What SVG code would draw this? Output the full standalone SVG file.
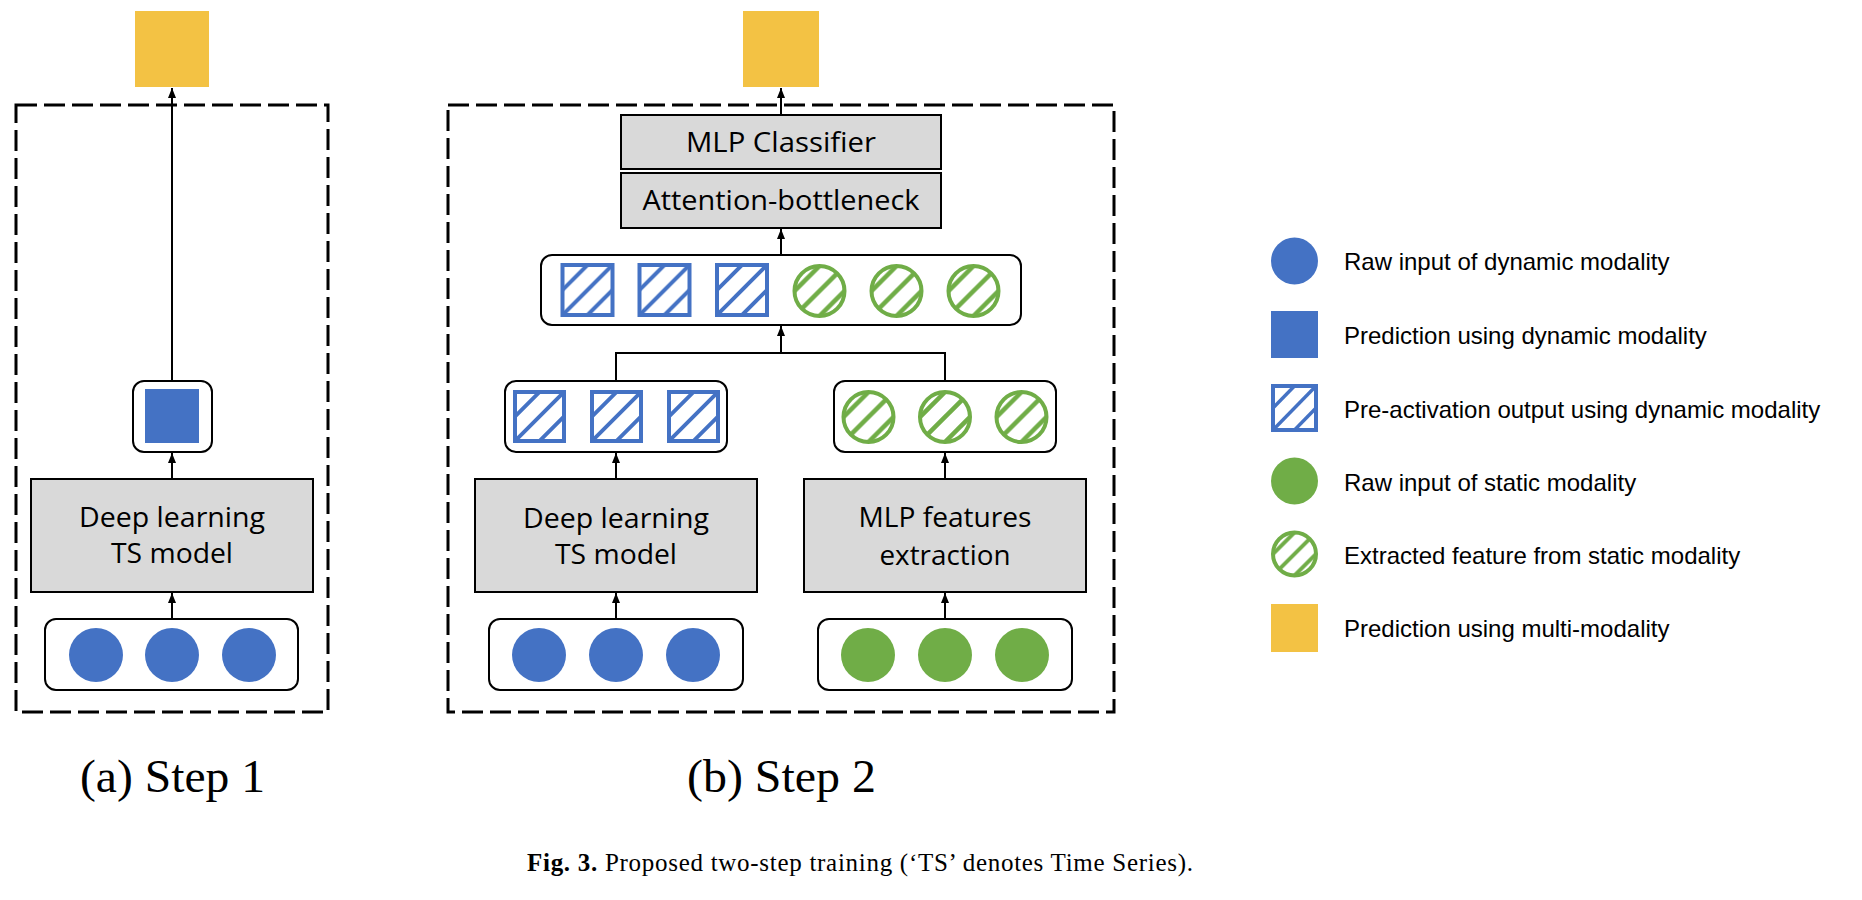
<svg xmlns="http://www.w3.org/2000/svg" width="1862" height="900" viewBox="0 0 1862 900">
<defs>
<style>
.dash{fill:none;stroke:#000;stroke-width:3;stroke-dasharray:21 7}
.gbox{fill:#D9D9D9;stroke:#000;stroke-width:2}
.rbox{fill:#fff;stroke:#000;stroke-width:2}
.lbl{font-family:"Open Sans","Noto Sans",sans-serif;font-size:28px;fill:#000;text-anchor:middle}
.leg{font-family:"Liberation Sans",Arial,sans-serif;font-size:24px;fill:#000}
.cap{font-family:"Liberation Serif","Times New Roman",serif;font-size:46px;fill:#000}
.fig{font-family:"Liberation Serif","Times New Roman",serif;font-size:25px;fill:#000}
.conn{fill:none;stroke:#000;stroke-width:2}
.bc{fill:#4472C4}
.gc{fill:#70AD47}
.yl{fill:#F3C244}
.hs{fill:url(#hatchB);stroke:#4472C4;stroke-width:4}
.hc{fill:url(#hatchG);stroke:#70AD47;stroke-width:4}
</style>
<marker id="arr" markerUnits="userSpaceOnUse" markerWidth="10" markerHeight="10" refX="10" refY="4" orient="auto">
<path d="M0,0 L10,4 L0,8 z" fill="#000"/>
</marker>
<pattern id="hatchB" patternContentUnits="objectBoundingBox" width="1" height="1">
<g stroke="#4472C4" stroke-width="0.08">
<line x1="-0.1" y1="0.6" x2="0.6" y2="-0.1"/>
<line x1="-0.1" y1="1.1" x2="1.1" y2="-0.1"/>
<line x1="0.4" y1="1.1" x2="1.1" y2="0.4"/>
</g>
</pattern>
<pattern id="hatchG" patternContentUnits="objectBoundingBox" width="1" height="1">
<g stroke="#70AD47" stroke-width="0.09">
<line x1="-0.1" y1="0.6" x2="0.6" y2="-0.1"/>
<line x1="-0.1" y1="1.1" x2="1.1" y2="-0.1"/>
<line x1="0.4" y1="1.1" x2="1.1" y2="0.4"/>
</g>
</pattern>
</defs>
<rect width="1862" height="900" fill="#fff"/>

<!-- Step 1 -->
<g id="step1-frame"><rect class="dash" x="16" y="105" width="312" height="607"/></g>
<g id="s1-output"><rect class="yl" x="135" y="11" width="74" height="76"/></g>
<g id="s1-pred"><rect class="rbox" x="133" y="381" width="79" height="71" rx="11"/><rect class="bc" x="145" y="389" width="54" height="54"/></g>
<g id="s1-model"><rect class="gbox" x="31" y="479" width="282" height="113"/>
<text class="lbl" x="172" y="527" textLength="186" lengthAdjust="spacingAndGlyphs">Deep learning</text>
<text class="lbl" x="172" y="563" textLength="122" lengthAdjust="spacingAndGlyphs">TS model</text></g>
<g id="s1-input"><rect class="rbox" x="45" y="619" width="253" height="71" rx="11"/>
<circle class="bc" cx="96" cy="655" r="27"/><circle class="bc" cx="172" cy="655" r="27"/><circle class="bc" cx="249" cy="655" r="27"/></g>

<!-- Step 2 -->
<g id="step2-frame"><rect class="dash" x="448" y="105" width="666" height="607"/></g>
<g id="s2-output"><rect class="yl" x="743" y="11" width="76" height="76"/></g>
<g id="s2-classifier"><rect class="gbox" x="621" y="115" width="320" height="54"/>
<text class="lbl" x="781" y="152" textLength="190" lengthAdjust="spacingAndGlyphs">MLP Classifier</text></g>
<g id="s2-attention"><rect class="gbox" x="621" y="173" width="320" height="55"/>
<text class="lbl" x="781" y="210" textLength="277" lengthAdjust="spacingAndGlyphs">Attention-bottleneck</text></g>
<g id="s2-fused"><rect class="rbox" x="541" y="255" width="480" height="70" rx="11"/>
<rect class="hs" x="562.5" y="265" width="50" height="50"/>
<rect class="hs" x="639.5" y="265" width="50" height="50"/>
<rect class="hs" x="717" y="265" width="50" height="50"/>
<circle class="hc" cx="819.5" cy="291" r="25"/>
<circle class="hc" cx="896.5" cy="291" r="25"/>
<circle class="hc" cx="973.5" cy="291" r="25"/></g>
<g id="s2-dyn-feat"><rect class="rbox" x="505" y="381" width="222" height="71" rx="11"/>
<rect class="hs" x="515" y="392" width="49" height="49"/>
<rect class="hs" x="592" y="392" width="49" height="49"/>
<rect class="hs" x="669" y="392" width="49" height="49"/></g>
<g id="s2-stat-feat"><rect class="rbox" x="834" y="381" width="222" height="71" rx="11"/>
<circle class="hc" cx="868.5" cy="417" r="25"/>
<circle class="hc" cx="945" cy="417" r="25"/>
<circle class="hc" cx="1021.5" cy="417" r="25"/></g>
<g id="s2-ts-model"><rect class="gbox" x="475" y="479" width="282" height="113"/>
<text class="lbl" x="616" y="528" textLength="186" lengthAdjust="spacingAndGlyphs">Deep learning</text>
<text class="lbl" x="616" y="564" textLength="122" lengthAdjust="spacingAndGlyphs">TS model</text></g>
<g id="s2-mlp-feat"><rect class="gbox" x="804" y="479" width="282" height="113"/>
<text class="lbl" x="945" y="527" textLength="173" lengthAdjust="spacingAndGlyphs">MLP features</text>
<text class="lbl" x="945" y="565" textLength="131" lengthAdjust="spacingAndGlyphs">extraction</text></g>
<g id="s2-dyn-input"><rect class="rbox" x="489" y="619" width="254" height="71" rx="11"/>
<circle class="bc" cx="539" cy="655" r="27"/><circle class="bc" cx="616" cy="655" r="27"/><circle class="bc" cx="693" cy="655" r="27"/></g>
<g id="s2-stat-input"><rect class="rbox" x="818" y="619" width="254" height="71" rx="11"/>
<circle class="gc" cx="868" cy="655" r="27"/><circle class="gc" cx="945" cy="655" r="27"/><circle class="gc" cx="1022" cy="655" r="27"/></g>

<!-- Connectors -->
<g id="connectors">
<line class="conn" x1="172" y1="381" x2="172" y2="88" marker-end="url(#arr)"/>
<line class="conn" x1="172" y1="479" x2="172" y2="453" marker-end="url(#arr)"/>
<line class="conn" x1="172" y1="619" x2="172" y2="593" marker-end="url(#arr)"/>
<line class="conn" x1="781" y1="115" x2="781" y2="88" marker-end="url(#arr)"/>
<line class="conn" x1="781" y1="255" x2="781" y2="229" marker-end="url(#arr)"/>
<polyline class="conn" points="616,381 616,353 945,353 945,381"/>
<line class="conn" x1="781" y1="353" x2="781" y2="326" marker-end="url(#arr)"/>
<line class="conn" x1="616" y1="479" x2="616" y2="453" marker-end="url(#arr)"/>
<line class="conn" x1="945" y1="479" x2="945" y2="453" marker-end="url(#arr)"/>
<line class="conn" x1="616" y1="619" x2="616" y2="593" marker-end="url(#arr)"/>
<line class="conn" x1="945" y1="619" x2="945" y2="593" marker-end="url(#arr)"/>
</g>

<!-- Legend -->
<g id="legend">
<circle class="bc" cx="1294.5" cy="261" r="23.5"/>
<text class="leg" x="1344" y="270">Raw input of dynamic modality</text>
<rect class="bc" x="1271" y="311" width="47" height="47"/>
<text class="leg" x="1344" y="344">Prediction using dynamic modality</text>
<rect class="hs" x="1273" y="386" width="43" height="44"/>
<text class="leg" x="1344" y="418">Pre-activation output using dynamic modality</text>
<circle class="gc" cx="1294.5" cy="481" r="23.5"/>
<text class="leg" x="1344" y="491">Raw input of static modality</text>
<circle class="hc" cx="1294.5" cy="554" r="21.5"/>
<text class="leg" x="1344" y="564">Extracted feature from static modality</text>
<rect class="yl" x="1271" y="604" width="47" height="48"/>
<text class="leg" x="1344" y="637">Prediction using multi-modality</text>
</g>

<!-- Captions -->
<text class="cap" x="80" y="792" textLength="185" lengthAdjust="spacingAndGlyphs">(a) Step 1</text>
<text class="cap" x="687" y="792" textLength="189" lengthAdjust="spacingAndGlyphs">(b) Step 2</text>
<text class="fig" x="527" y="871" textLength="666" lengthAdjust="spacing"><tspan font-weight="bold">Fig. 3.</tspan>  Proposed two-step training (‘TS’ denotes Time Series).</text>
</svg>
